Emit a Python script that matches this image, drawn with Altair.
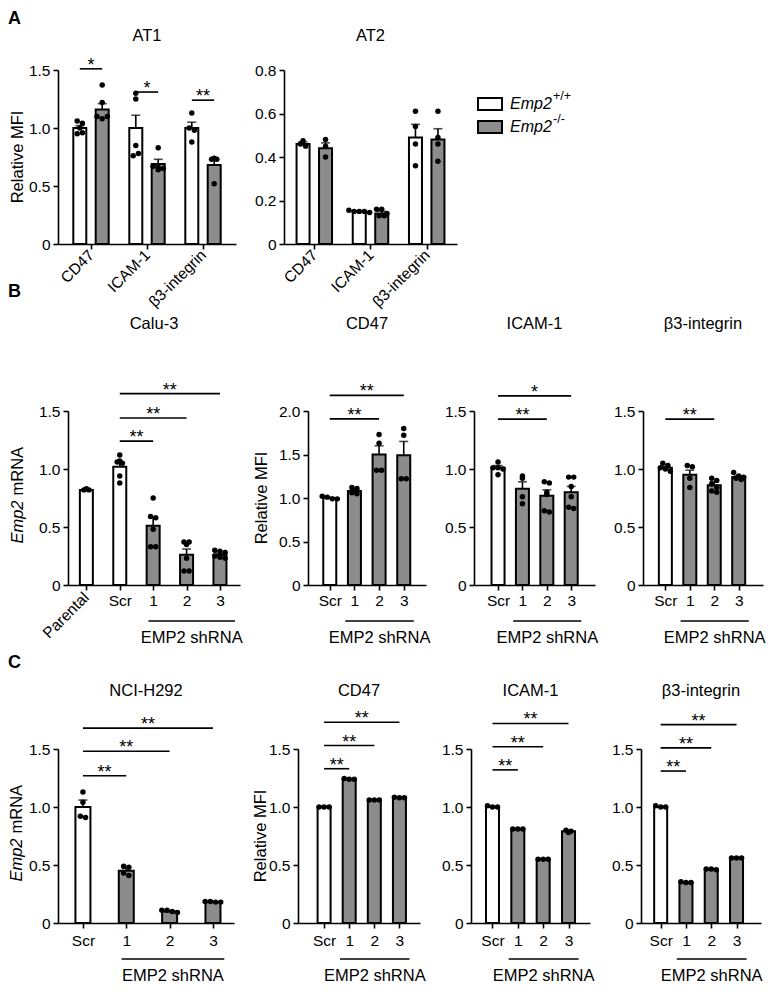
import json
import altair as alt
import pandas as pd

FONT = "Liberation Sans"
GRAY = "#8c8c8c"
TICK_FS = 15.5
TITLE_FS = 16.5
STAR_FS = 18
H = 174

# ---------------- Panel A data ----------------
A_categories = ["CD47", "ICAM-1", "β3-integrin"]
A_genotypes = ["+/+", "-/-"]

AT1_wt_mean = [1.00, 1.00, 1.00]
AT1_wt_sem = [0.02, 0.11, 0.05]
AT1_ko_mean = [1.16, 0.69, 0.68]
AT1_ko_sem = [0.05, 0.04, 0.05]
AT1_wt_points = [[1.06, 1.04, 1.00, 0.95, 0.96], [1.30, 1.25, 0.85, 0.76, 0.78], [1.13, 1.00, 0.98, 0.88]]
AT1_ko_points = [[1.37, 1.22, 1.10, 1.08, 1.10], [0.83, 0.67, 0.66, 0.65, 0.64], [0.74, 0.73, 0.73, 0.52]]
AT1_sig_levels = [1.51, 1.31, 1.24]
AT1_sig_labels = ["*", "*", "**"]

AT2_wt_mean = [0.46, 0.15, 0.49]
AT2_wt_sem = [0.01, 0.003, 0.06]
AT2_ko_mean = [0.44, 0.14, 0.48]
AT2_ko_sem = [0.025, 0.01, 0.05]
AT2_wt_points = [[0.475, 0.46, 0.45], [0.155, 0.15, 0.15, 0.15, 0.145], [0.61, 0.54, 0.46, 0.36]]
AT2_ko_points = [[0.48, 0.45, 0.40], [0.16, 0.16, 0.14, 0.13, 0.13], [0.61, 0.49, 0.46, 0.38]]

# ---------------- Panel B data (Calu-3) ----------------
B_mrna_labels = ["Parental", "Scr", "1", "2", "3"]
B_mrna_mean = [0.82, 1.02, 0.51, 0.26, 0.26]
B_mrna_sem = [0.005, 0.04, 0.07, 0.05, 0.015]
B_mrna_points = [[0.82, 0.82, 0.83], [1.12, 1.07, 1.06, 1.05, 0.94, 0.88],
                 [0.75, 0.59, 0.58, 0.48, 0.33, 0.33], [0.37, 0.37, 0.35, 0.23, 0.12, 0.12],
                 [0.30, 0.29, 0.28, 0.25, 0.24, 0.23]]
B_mrna_sig = [("Scr", "1", 1.24, "**"), ("Scr", "2", 1.44, "**"), ("Scr", "3", 1.65, "**")]

SH_labels = ["Scr", "1", "2", "3"]

B_cd47_mean = [1.00, 1.08, 1.50, 1.49]
B_cd47_sem = [0.01, 0.02, 0.10, 0.16]
B_cd47_points = [[1.02, 1.01, 0.99, 0.99], [1.12, 1.11, 1.06, 1.05], [1.73, 1.63, 1.32, 1.32], [1.80, 1.72, 1.22, 1.22]]
B_cd47_sig = [("Scr", "2", 1.91, "**"), ("Scr", "3", 2.18, "**")]

B_icam_mean = [1.01, 0.83, 0.77, 0.80]
B_icam_sem = [0.02, 0.06, 0.05, 0.05]
B_icam_points = [[1.06, 1.01, 1.01, 1.00, 0.95], [0.94, 0.92, 0.76, 0.70],
                 [0.89, 0.88, 0.80, 0.78, 0.64, 0.63], [0.93, 0.93, 0.85, 0.76, 0.67, 0.66]]
B_icam_sig = [("Scr", "2", 1.43, "**"), ("Scr", "3", 1.63, "*")]

B_b3_mean = [1.01, 0.95, 0.86, 0.93]
B_b3_sem = [0.01, 0.04, 0.03, 0.01]
B_b3_points = [[1.05, 1.03, 1.01, 1.00, 0.98], [1.03, 1.02, 0.92, 0.84],
               [0.92, 0.90, 0.87, 0.84, 0.81, 0.80], [0.97, 0.94, 0.93, 0.92, 0.91]]
B_b3_sig = [("Scr", "2", 1.43, "**")]

# ---------------- Panel C data (NCI-H292) ----------------
C_mrna_mean = [1.00, 0.45, 0.10, 0.18]
C_mrna_sem = [0.06, 0.02, 0.005, 0.003]
C_mrna_points = [[1.13, 1.04, 0.92, 0.91], [0.49, 0.48, 0.43, 0.41], [0.11, 0.11, 0.10, 0.09], [0.185, 0.185, 0.18, 0.18]]
C_mrna_sig = [("Scr", "1", 1.27, "**"), ("Scr", "2", 1.48, "**"), ("Scr", "3", 1.68, "**")]

C_cd47_mean = [1.00, 1.24, 1.06, 1.08]
C_cd47_sem = [0.005, 0.005, 0.005, 0.005]
C_cd47_points = [[1.0, 1.0, 1.0], [1.245, 1.24, 1.24], [1.06, 1.06, 1.06], [1.085, 1.08, 1.08]]
C_cd47_sig = [("Scr", "1", 1.33, "**"), ("Scr", "2", 1.53, "**"), ("Scr", "3", 1.73, "**")]

C_icam_mean = [1.00, 0.81, 0.55, 0.79]
C_icam_sem = [0.004, 0.004, 0.004, 0.008]
C_icam_points = [[1.01, 1.0, 1.0], [0.81, 0.81, 0.81], [0.55, 0.55, 0.55], [0.80, 0.79, 0.78]]
C_icam_sig = [("Scr", "1", 1.32, "**"), ("Scr", "2", 1.52, "**"), ("Scr", "3", 1.72, "**")]

C_b3_mean = [1.00, 0.35, 0.46, 0.56]
C_b3_sem = [0.004, 0.004, 0.004, 0.004]
C_b3_points = [[1.01, 1.0, 1.0], [0.355, 0.35, 0.35], [0.465, 0.465, 0.46], [0.56, 0.56, 0.56]]
C_b3_sig = [("Scr", "1", 1.31, "**"), ("Scr", "2", 1.51, "**"), ("Scr", "3", 1.71, "**")]


# ---------------- helpers ----------------
def axis_style():
    return dict(domainColor="black", domainWidth=1.6, tickColor="black", tickWidth=1.6, tickSize=5,
                labelColor="black", labelFont=FONT, labelFontSize=TICK_FS, grid=False, title=None)


def txt(text, x, y, **kw):
    return alt.Chart(pd.DataFrame({"t": [text]})).mark_text(font=FONT, color="black", **kw).encode(
        x=alt.value(x), y=alt.value(y), text="t:N")


def bar_layers(bars, points, sigs, W, xdom, ydom, yticks, tick_labels, bar_w, label_angle=0, lpad=3):
    xs = alt.Scale(domain=xdom, nice=False, zero=False)
    ys = alt.Scale(domain=ydom, nice=False, zero=False)
    px_x = W / (xdom[1] - xdom[0])
    px_y = H / (ydom[1] - ydom[0])
    jit = 5.5 / px_x
    binsz = 5.5 / px_y
    lab = json.dumps(tick_labels)
    xkw = dict(values=list(range(len(tick_labels))), labelExpr=f"{lab}[round(datum.value)]",
               labelFlush=False, labelOverlap=False, labelPadding=lpad, **axis_style())
    if label_angle:
        xkw.update(labelAngle=label_angle, labelAlign="right", labelBaseline="middle")
    xax = alt.Axis(**xkw)
    yax = alt.Axis(values=yticks, labelExpr="datum.value == 0 ? '0' : format(datum.value, '.1f')",
                   labelFlush=False, labelPadding=3, **axis_style())

    def X(f):
        return alt.X(f, scale=xs, axis=xax)

    def Y(f):
        return alt.Y(f, scale=ys, axis=yax)

    bar = alt.Chart(bars).mark_bar(orient="vertical", size=bar_w, stroke="black", strokeWidth=2).encode(
        x=X("pos:Q"), y=Y("mean:Q"), fill=alt.Fill("fill:N", scale=None))
    err = alt.Chart(bars).transform_calculate(top="datum.mean + datum.sem").mark_rule(
        color="black", strokeWidth=1.6).encode(x=X("pos:Q"), y=Y("mean:Q"), y2="top:Q")
    cap = alt.Chart(bars).transform_calculate(top="datum.mean + datum.sem").mark_tick(
        orient="horizontal", color="black", thickness=1.6, size=9).encode(x=X("pos:Q"), y=Y("top:Q"))
    dots = (alt.Chart(points)
            .transform_calculate(b=f"round(datum.value / {binsz})")
            .transform_joinaggregate(n="count()", groupby=["pos", "b"])
            .transform_window(rn="row_number()", groupby=["pos", "b"])
            .transform_calculate(px=f"datum.pos + (datum.rn - (datum.n + 1) / 2) * {jit}")
            .mark_circle(size=30, color="black", opacity=1)
            .encode(x=X("px:Q"), y=Y("value:Q")))
    srule = alt.Chart(sigs).mark_rule(color="black", strokeWidth=1.6).encode(
        x=X("x1:Q"), x2="x2:Q", y=Y("level:Q"))
    stext = alt.Chart(sigs).transform_calculate(mid="(datum.x1 + datum.x2) / 2").mark_text(
        font=FONT, fontSize=STAR_FS, baseline="alphabetic", dy=2, color="black").encode(
        x=X("mid:Q"), y=Y("level:Q"), text="label:N")
    return [bar, err, cap, dots, srule, stext], X, px_x


def a_panel(wt_mean, wt_sem, ko_mean, ko_sem, wt_pts, ko_pts, sig_levels, sig_labels, W, xdom, ydom, yticks):
    off = {"+/+": -0.2, "-/-": 0.2}
    fill = {"+/+": "white", "-/-": GRAY}
    bars, pts = [], []
    for i in range(len(A_categories)):
        for g, m, s, p in (("+/+", wt_mean, wt_sem, wt_pts), ("-/-", ko_mean, ko_sem, ko_pts)):
            pos = i + off[g]
            bars.append({"pos": pos, "mean": m[i], "sem": s[i], "fill": fill[g]})
            pts += [{"pos": pos, "value": v} for v in p[i]]
    sigs = []
    if sig_levels:
        sigs = [{"x1": i + off["+/+"], "x2": i + off["-/-"], "level": lv, "label": lb}
                for i, (lv, lb) in enumerate(zip(sig_levels, sig_labels))]
    sig_df = pd.DataFrame(sigs, columns=["x1", "x2", "level", "label"])
    layers, _, _ = bar_layers(pd.DataFrame(bars), pd.DataFrame(pts), sig_df, W, xdom, ydom, yticks,
                              A_categories, 13, label_angle=315)
    return layers


def sh_panel(labels, means, sems, pts, sig, W, xdom, ydom, yticks, bar_w=13, pad=(10, 11), lpad=3):
    fills = ["white" if lb in ("Parental", "Scr") else GRAY for lb in labels]
    bars = pd.DataFrame({"pos": list(range(len(labels))), "mean": means, "sem": sems, "fill": fills})
    points = pd.DataFrame([{"pos": i, "value": v} for i, vs in enumerate(pts) for v in vs])
    sigs = pd.DataFrame([{"x1": labels.index(a), "x2": labels.index(b), "level": lv, "label": lb}
                         for a, b, lv, lb in sig])
    tick_text = ["" if lb == "Parental" else lb for lb in labels]
    layers, X, px_x = bar_layers(bars, points, sigs, W, xdom, ydom, yticks, tick_text, bar_w, lpad=lpad)
    # bracket under the shRNA groups
    first, last = labels.index("1"), labels.index("3")
    br = pd.DataFrame({"x1": [first - pad[0] / px_x], "x2": [last + pad[1] / px_x], "t": ["EMP2 shRNA"]})
    layers.append(alt.Chart(br).mark_rule(color="black", strokeWidth=1.6).encode(
        x=X("x1:Q"), x2="x2:Q", y=alt.value(H + 36)))
    layers.append(alt.Chart(br).transform_calculate(mid="(datum.x1 + datum.x2) / 2").mark_text(
        font=FONT, fontSize=TITLE_FS, baseline="middle", color="black").encode(
        x=X("mid:Q"), y=alt.value(H + 53), text="t:N"))
    if "Parental" in labels:
        pdf = pd.DataFrame({"pos": [labels.index("Parental")], "t": ["Parental"]})
        layers.append(alt.Chart(pdf).mark_text(font=FONT, fontSize=TICK_FS, angle=315, align="right",
                                               baseline="middle", color="black").encode(
            x=X("pos:Q"), y=alt.value(H + 10), text="t:N"))
    return layers


def ytitle_plain(text, dx):
    return txt(text, dx, H / 2, fontSize=TITLE_FS, angle=270, align="center", baseline="middle")


def ytitle_emp2(dx):
    return [txt("Emp2", dx, H / 2 + 2.5, fontSize=TITLE_FS, angle=270, align="right", baseline="middle",
                fontStyle="italic"),
            txt("mRNA", dx, H / 2 - 2.5, fontSize=TITLE_FS, angle=270, align="left", baseline="middle")]


def title(text, xc, dy):
    return txt(text, xc, dy, fontSize=TITLE_FS, align="center", baseline="middle")


def letter(text, dx, dy):
    return txt(text, dx, dy, fontSize=18, fontWeight="bold", align="left", baseline="middle")


# ---------------- Row A ----------------
W_AT1, W_AT2 = 178, 173
at1 = alt.layer(*a_panel(AT1_wt_mean, AT1_wt_sem, AT1_ko_mean, AT1_ko_sem, AT1_wt_points, AT1_ko_points,
                         AT1_sig_levels, AT1_sig_labels, W_AT1, [-0.5, 2.5], [0, 1.5], [0, 0.5, 1.0, 1.5]),
                title("AT1", W_AT1 / 2, -34), letter("A", -50, -51), ytitle_plain("Relative MFI", -40)
                ).properties(width=W_AT1, height=H)

legend = []
for k, (g, f) in enumerate(zip(A_genotypes, ["white", GRAY])):
    yc = 34 + 23 * k
    legend.append(alt.Chart(pd.DataFrame({"g": [g]})).mark_rect(fill=f, stroke="black", strokeWidth=2).encode(
        x=alt.value(W_AT2 + 21), x2=alt.value(W_AT2 + 45), y=alt.value(yc - 6), y2=alt.value(yc + 6)))
    legend.append(txt("Emp2", W_AT2 + 53, yc, fontSize=16, fontStyle="italic", align="left", baseline="middle"))
    legend.append(txt(g, W_AT2 + 96, yc - 8, fontSize=12.5, align="left", baseline="middle"))

at2 = alt.layer(*a_panel(AT2_wt_mean, AT2_wt_sem, AT2_ko_mean, AT2_ko_sem, AT2_wt_points, AT2_ko_points,
                         None, None, W_AT2, [-0.45, 2.45], [0, 0.8], [0, 0.2, 0.4, 0.6, 0.8]),
                title("AT2", W_AT2 / 2, -34), *legend).properties(width=W_AT2, height=H)
rowA = alt.hconcat(at1, at2, spacing=48, bounds="flush")

# ---------------- Row B ----------------
B_TITLE, B_LET = -87, -119
calu = alt.layer(*sh_panel(B_mrna_labels, B_mrna_mean, B_mrna_sem, B_mrna_points, B_mrna_sig, 172,
                           [-0.4, 4.45], [0, 1.5], [0, 0.5, 1.0, 1.5], pad=(5, 16)),
                 title("Calu-3", 86, B_TITLE), letter("B", -60, B_LET), *ytitle_emp2(-50)
                 ).properties(width=172, height=H)
b_cd47 = alt.layer(*sh_panel(SH_labels, B_cd47_mean, B_cd47_sem, B_cd47_points, B_cd47_sig, 118,
                             [-0.68, 3.7], [0, 2.0], [0, 0.5, 1.0, 1.5, 2.0]),
                   title("CD47", 59, B_TITLE), ytitle_plain("Relative MFI", -46)).properties(width=118, height=H)
b_icam = alt.layer(*sh_panel(SH_labels, B_icam_mean, B_icam_sem, B_icam_points, B_icam_sig, 121,
                             [-0.78, 3.77], [0, 1.5], [0, 0.5, 1.0, 1.5]),
                   title("ICAM-1", 60.5, B_TITLE)).properties(width=121, height=H)
b_b3 = alt.layer(*sh_panel(SH_labels, B_b3_mean, B_b3_sem, B_b3_points, B_b3_sig, 120,
                           [-0.71, 3.79], [0, 1.5], [0, 0.5, 1.0, 1.5]),
                 title("β3-integrin", 60, B_TITLE)).properties(width=120, height=H)
spacer = alt.Chart(pd.DataFrame({"t": [""]})).mark_text().encode(text="t:N").properties(width=1, height=1)
rowB = alt.hconcat(
    spacer,
    alt.hconcat(calu, alt.hconcat(b_cd47, b_icam, b_b3, spacing=48, bounds="flush"),
                spacing=68, bounds="flush"),
    spacing=9, bounds="flush")

# ---------------- Row C ----------------
C_TITLE, C_LET = -58, -86
nci = alt.layer(*sh_panel(SH_labels, C_mrna_mean, C_mrna_sem, C_mrna_points, C_mrna_sig, 176,
                          [-0.46, 3.37], [0, 1.5], [0, 0.5, 1.0, 1.5], bar_w=15, pad=(5, 12), lpad=5),
                title("NCI-H292", 88, C_TITLE), letter("C", -50, C_LET), *ytitle_emp2(-41)
                ).properties(width=176, height=H)
c_cd47 = alt.layer(*sh_panel(SH_labels, C_cd47_mean, C_cd47_sem, C_cd47_points, C_cd47_sig, 122,
                             [-0.84, 3.62], [0, 1.5], [0, 0.5, 1.0, 1.5], lpad=5),
                   title("CD47", 61, C_TITLE), ytitle_plain("Relative MFI", -37)).properties(width=122, height=H)
c_icam = alt.layer(*sh_panel(SH_labels, C_icam_mean, C_icam_sem, C_icam_points, C_icam_sig, 119,
                             [-0.65, 3.65], [0, 1.5], [0, 0.5, 1.0, 1.5], lpad=5),
                   title("ICAM-1", 59.5, C_TITLE)).properties(width=119, height=H)
c_b3 = alt.layer(*sh_panel(SH_labels, C_b3_mean, C_b3_sem, C_b3_points, C_b3_sig, 120,
                           [-0.58, 3.77], [0, 1.5], [0, 0.5, 1.0, 1.5], lpad=5),
                 title("β3-integrin", 60, C_TITLE)).properties(width=120, height=H)
rowC = alt.hconcat(nci, alt.hconcat(c_cd47, c_icam, c_b3, spacing=51, bounds="flush"),
                   spacing=64, bounds="flush")

# rows are nested groups, so these spacings are origin-to-origin distances
chart = (alt.vconcat(rowA, alt.vconcat(rowB, rowC, spacing=338, bounds="flush"),
                     spacing=341, bounds="flush")
         .properties(padding={"left": 0, "top": 2, "right": 0, "bottom": 0})
         .configure(font=FONT)
         .configure_view(stroke=None))

chart.save("out.html", embed_options={"renderer": "svg", "actions": False})
